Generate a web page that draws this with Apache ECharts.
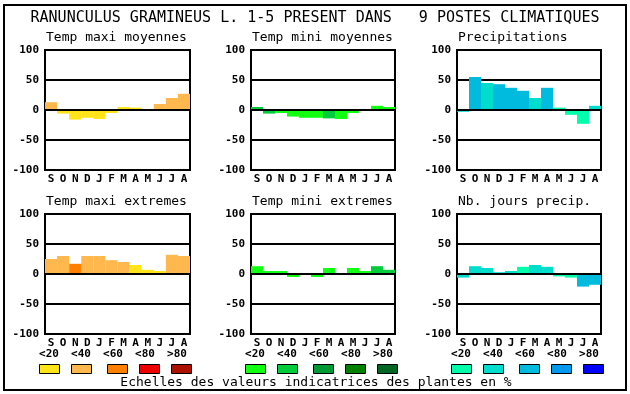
<!DOCTYPE html>
<html><head><meta charset="utf-8">
<script src="https://cdn.jsdelivr.net/npm/echarts@6/dist/echarts.min.js"></script>
<style>html,body{margin:0;padding:0;background:#fff}#c{width:630px;height:394px}</style>
</head><body><div id="c"></div>
<script>
const months = ['S','O','N','D','J','F','M','A','M','J','J','A'];
const yTicks = [-100,-50,0,50,100];
const classLabels = ['<20','<40','<60','<80','>80'];
const titleText = 'RANUNCULUS GRAMINEUS L. 1-5 PRESENT DANS   9 POSTES CLIMATIQUES';
const footText = 'Echelles des valeurs indicatrices des plantes en %';

const redScale   = ['#FFE41A','#FFB84D','#FF8000','#EE0000','#AA1100'];
const greenScale = ['#11FF11','#00CC3C','#009933','#008000','#006622'];
const blueScale  = ['#00FFAA','#00DDCC','#00BBDD','#0099EE','#0000FF'];

const panelTitles = ['Temp maxi moyennes','Temp mini moyennes','Precipitations',
                     'Temp maxi extremes','Temp mini extremes','Nb. jours precip.'];

const tmaxMoyValues = [13,-6,-16,-13,-15,-5,5,4,0,10,20,27];
const tmaxMoyClass  = [1,0,0,0,0,0,0,0,0,1,1,1];
const tminMoyValues = [5,-6,-5,-11,-13,-13,-14,-15,-5,0,7,5];
const tminMoyClass  = [1,1,0,0,0,0,1,0,0,0,0,0];
const precValues    = [-3,55,45,43,37,32,20,37,4,-8,-23,7];
const precClass     = [1,2,1,2,2,2,1,2,0,0,0,1];
const tmaxExtValues = [25,30,17,30,30,23,20,15,7,5,32,30];
const tmaxExtClass  = [1,1,2,1,1,1,1,0,0,0,1,1];
const tminExtValues = [13,5,5,-5,-1,-5,10,0,10,5,13,7];
const tminExtClass  = [0,0,0,0,0,0,0,0,0,0,1,1];
const nbjValues     = [-6,13,10,3,5,12,15,12,-4,-6,-21,-18];
const nbjClass      = [1,1,1,1,1,0,1,1,0,0,2,2];

const panels = [
  {v:tmaxMoyValues,c:tmaxMoyClass,pal:redScale},
  {v:tminMoyValues,c:tminMoyClass,pal:greenScale},
  {v:precValues,c:precClass,pal:blueScale},
  {v:tmaxExtValues,c:tmaxExtClass,pal:redScale},
  {v:tminExtValues,c:tminExtClass,pal:greenScale},
  {v:nbjValues,c:nbjClass,pal:blueScale}
];

const lefts = [45,251,457], widths=[145,144,144];
const tops = [50,214], H = 120;
const mono = 'DejaVu Sans Mono';

const grids=[], xAxes=[], yAxes=[], series=[], graphics=[];
panels.forEach((p,i)=>{
  const col=i%3, row=Math.floor(i/3);
  grids.push({left:lefts[col], top:tops[row], width:widths[col], height:H,
    show:true, borderColor:'#000', borderWidth:2, backgroundColor:'#fff'});
  xAxes.push({type:'category', gridIndex:i, data:months,
    axisLine:{show:false}, axisTick:{show:false},
    axisLabel:{interval:0, margin:4, color:'#000', fontFamily:mono, fontWeight:'bold', fontSize:11}});
  yAxes.push({type:'value', gridIndex:i, min:yTicks[0], max:yTicks[yTicks.length-1], interval:50,
    axisLine:{show:false}, axisTick:{show:false},
    axisLabel:{margin:6, color:'#000', fontFamily:mono, fontWeight:'bold', fontSize:11},
    splitLine:{show:true, lineStyle:{color:'#000', width:2}}});
  series.push({type:'bar', xAxisIndex:i, yAxisIndex:i, barCategoryGap:'0%',
    data:p.v.map((v,k)=>({value:v, itemStyle:{color:p.pal[p.c[k]]}})),
    markLine:{silent:true, symbol:'none', label:{show:false},
      lineStyle:{color:'#000', width:2, type:'solid'}, data:[{yAxis:0}]}});
  graphics.push({type:'text', left:lefts[col]+1, top:tops[row]-19,
    style:{text:panelTitles[i], font:'13px "'+mono+'"', fill:'#000'}});
  // legend rows under bottom panels
  if(row===0){
    const pal=[redScale,greenScale,blueScale][col];
    classLabels.forEach((lab,k)=>{
      graphics.push({type:'text', x:lefts[col]+4+32*k, y:354,
        style:{text:lab, font:'bold 11px "'+mono+'"', fill:'#000', align:'center', verticalAlign:'middle'}});
      graphics.push({type:'rect', shape:{x:lefts[col]-5.5+[0,32,68,100,132][k], y:364.5, width:20, height:9},
        style:{fill:pal[k], stroke:'#000', lineWidth:1}});
    });
  }
});

graphics.push({type:'rect', shape:{x:4, y:5, width:622, height:385}, style:{fill:null, stroke:'#000', lineWidth:2}, z:-1});
graphics.push({type:'text', x:315, y:18, style:{text:titleText, font:'15px "'+mono+'"', fill:'#000', align:'center', verticalAlign:'middle'}});
graphics.push({type:'text', x:316, y:383, style:{text:footText, font:'13px "'+mono+'"', fill:'#000', align:'center', verticalAlign:'middle'}});

const chart = echarts.init(document.getElementById('c'), null, {renderer:'canvas'});
chart.setOption({animation:false, backgroundColor:'#fff',
  grid:grids, xAxis:xAxes, yAxis:yAxes, series:series, graphic:graphics});
</script></body></html>
